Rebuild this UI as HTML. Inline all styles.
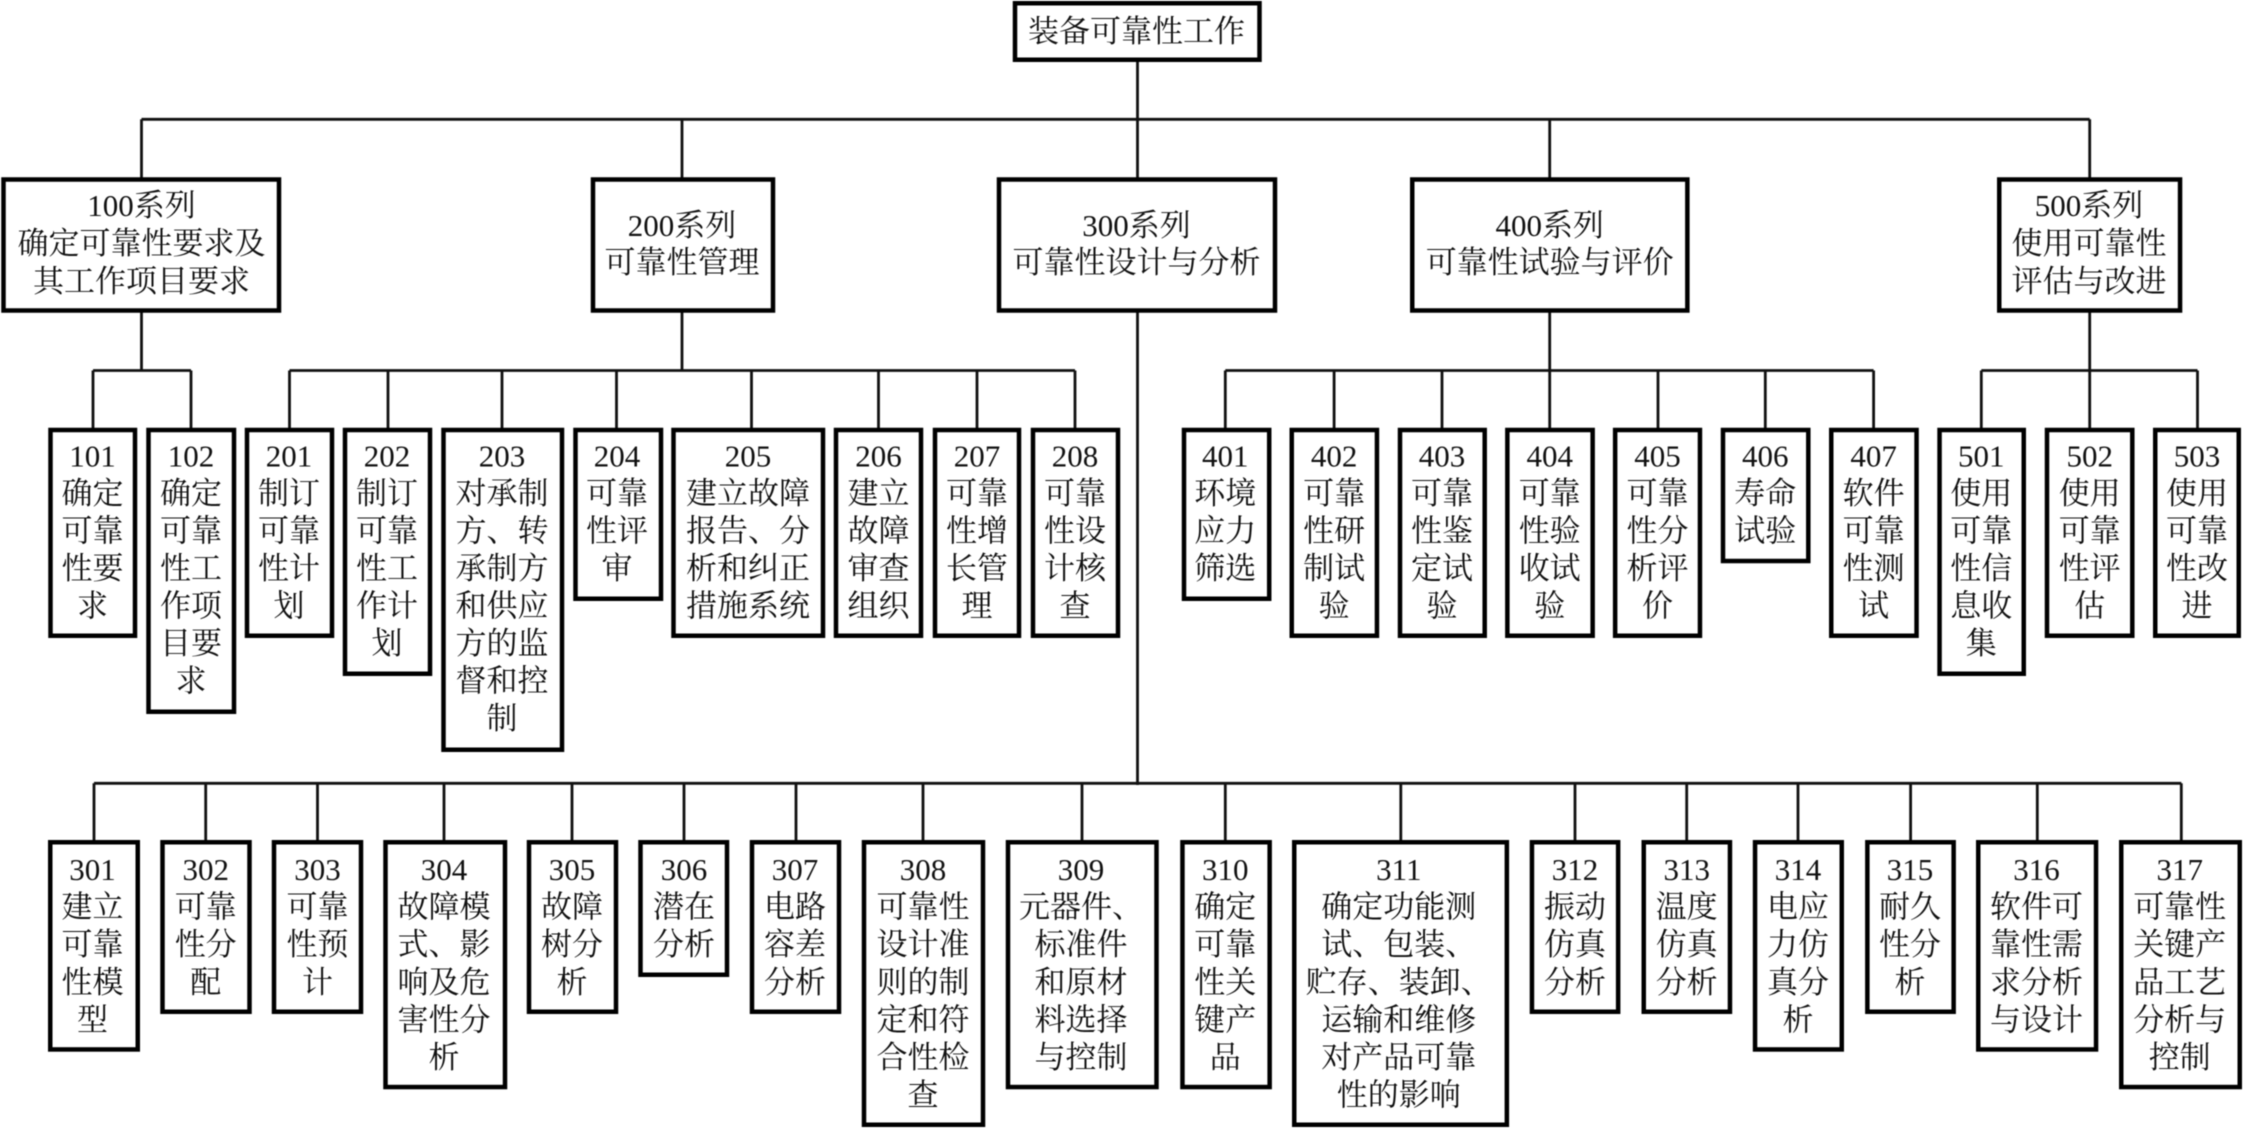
<!DOCTYPE html>
<html lang="zh"><head><meta charset="utf-8"><title>装备可靠性工作</title>
<style>
html,body{margin:0;padding:0;background:#fff;width:2243px;height:1129px;overflow:hidden}
svg{display:block;filter:blur(.5px)}
rect{fill:#fff;stroke:#000;stroke-width:4.5}
path{fill:none;stroke:#111;stroke-width:2.8}
text{font-family:"Liberation Serif","Noto Serif CJK SC",serif;font-size:31px;fill:#111;text-anchor:middle}
</style></head><body>
<svg width="2243" height="1129" viewBox="0 0 2243 1129" xmlns="http://www.w3.org/2000/svg">
<path d="M1137.5 61V178M141.5 119.3H2089.7M141.5 119.3V178M682 119.3V178M1549.7 119.3V178M2089.7 119.3V178"/>
<path d="M141.5 312V370.5M93 370.5H191M93 370.5V428M191 370.5V428"/>
<path d="M682 312V370.5M289.5 370.5H1075M289.5 370.5V428M388 370.5V428M502 370.5V428M616.5 370.5V428M751.5 370.5V428M878.5 370.5V428M977 370.5V428M1075 370.5V428"/>
<path d="M1549.7 312V370.5M1225.3 370.5H1873.6M1225.3 370.5V428M1334.1 370.5V428M1442 370.5V428M1549.7 370.5V428M1658 370.5V428M1765.3 370.5V428M1873.6 370.5V428"/>
<path d="M2089.7 312V370.5M1981.3 370.5H2197.5M1981.3 370.5V428M2089.7 370.5V428M2197.5 370.5V428"/>
<path d="M1137.5 312V785M94 783.3H2181.3"/>
<path d="M94 783.3V840M205.7 783.3V840M317.5 783.3V840M444 783.3V840M572 783.3V840M684 783.3V840M796 783.3V840M923 783.3V840M1082 783.3V840M1225.3 783.3V840M1400.8 783.3V840M1575 783.3V840M1686.7 783.3V840M1798 783.3V840M1910.6 783.3V840M2037.3 783.3V840M2181.3 783.3V840"/>

<rect x="1015" y="3.25" width="244.5" height="56.5"/>
<text x="1136.5" y="42">装备可靠性工作</text>

<rect x="3.5" y="179.5" width="275.5" height="131"/>
<text y="216"><tspan x="141.5">100系列</tspan><tspan x="141.5" dy="38">确定可靠性要求及</tspan><tspan x="141.5" dy="38">其工作项目要求</tspan></text>
<rect x="593" y="179.5" width="180" height="131"/>
<text y="236"><tspan x="682">200系列</tspan><tspan x="682" dy="37">可靠性管理</tspan></text>
<rect x="999" y="179.5" width="276" height="131"/>
<text y="236"><tspan x="1136.5">300系列</tspan><tspan x="1136.5" dy="37">可靠性设计与分析</tspan></text>
<rect x="1412.25" y="179.5" width="275.1" height="131"/>
<text y="236"><tspan x="1549.7">400系列</tspan><tspan x="1549.7" dy="37">可靠性试验与评价</tspan></text>
<rect x="1999.25" y="179.5" width="180.8" height="131"/>
<text y="216"><tspan x="2089">500系列</tspan><tspan x="2089" dy="38">使用可靠性</tspan><tspan x="2089" dy="38">评估与改进</tspan></text>

<rect x="50.5" y="430" width="84.5" height="205.75"/>
<text y="466.5"><tspan x="92.5">101</tspan><tspan x="92.5" dy="37.5">确定</tspan><tspan x="92.5" dy="37.5">可靠</tspan><tspan x="92.5" dy="37.5">性要</tspan><tspan x="92.5" dy="37.5">求</tspan></text>
<rect x="148.5" y="430" width="85.5" height="281.75"/>
<text y="466.5"><tspan x="191">102</tspan><tspan x="191" dy="37.5">确定</tspan><tspan x="191" dy="37.5">可靠</tspan><tspan x="191" dy="37.5">性工</tspan><tspan x="191" dy="37.5">作项</tspan><tspan x="191" dy="37.5">目要</tspan><tspan x="191" dy="37.5">求</tspan></text>
<rect x="247" y="430" width="85" height="205.75"/>
<text y="466.5"><tspan x="289">201</tspan><tspan x="289" dy="37.5">制订</tspan><tspan x="289" dy="37.5">可靠</tspan><tspan x="289" dy="37.5">性计</tspan><tspan x="289" dy="37.5">划</tspan></text>
<rect x="345" y="430" width="85" height="243.75"/>
<text y="466.5"><tspan x="387">202</tspan><tspan x="387" dy="37.5">制订</tspan><tspan x="387" dy="37.5">可靠</tspan><tspan x="387" dy="37.5">性工</tspan><tspan x="387" dy="37.5">作计</tspan><tspan x="387" dy="37.5">划</tspan></text>
<rect x="443.5" y="430" width="118.5" height="319.75"/>
<text y="466.5"><tspan x="502">203</tspan><tspan x="502" dy="37.5">对承制</tspan><tspan x="502" dy="37.5">方、转</tspan><tspan x="502" dy="37.5">承制方</tspan><tspan x="502" dy="37.5">和供应</tspan><tspan x="502" dy="37.5">方的监</tspan><tspan x="502" dy="37.5">督和控</tspan><tspan x="502" dy="37.5">制</tspan></text>
<rect x="575.5" y="430" width="85.5" height="168.75"/>
<text y="466.5"><tspan x="617">204</tspan><tspan x="617" dy="37.5">可靠</tspan><tspan x="617" dy="37.5">性评</tspan><tspan x="617" dy="37.5">审</tspan></text>
<rect x="673.5" y="430" width="149.5" height="205.75"/>
<text y="466.5"><tspan x="748">205</tspan><tspan x="748" dy="37.5">建立故障</tspan><tspan x="748" dy="37.5">报告、分</tspan><tspan x="748" dy="37.5">析和纠正</tspan><tspan x="748" dy="37.5">措施系统</tspan></text>
<rect x="836" y="430" width="85" height="205.75"/>
<text y="466.5"><tspan x="878.5">206</tspan><tspan x="878.5" dy="37.5">建立</tspan><tspan x="878.5" dy="37.5">故障</tspan><tspan x="878.5" dy="37.5">审查</tspan><tspan x="878.5" dy="37.5">组织</tspan></text>
<rect x="935" y="430" width="84" height="205.75"/>
<text y="466.5"><tspan x="977">207</tspan><tspan x="977" dy="37.5">可靠</tspan><tspan x="977" dy="37.5">性增</tspan><tspan x="977" dy="37.5">长管</tspan><tspan x="977" dy="37.5">理</tspan></text>
<rect x="1033" y="430" width="85" height="205.75"/>
<text y="466.5"><tspan x="1075">208</tspan><tspan x="1075" dy="37.5">可靠</tspan><tspan x="1075" dy="37.5">性设</tspan><tspan x="1075" dy="37.5">计核</tspan><tspan x="1075" dy="37.5">查</tspan></text>

<rect x="1184" y="430" width="85.2" height="168.75"/>
<text y="466.5"><tspan x="1225.3">401</tspan><tspan x="1225.3" dy="37.5">环境</tspan><tspan x="1225.3" dy="37.5">应力</tspan><tspan x="1225.3" dy="37.5">筛选</tspan></text>
<rect x="1291.75" y="430" width="85.2" height="205.75"/>
<text y="466.5"><tspan x="1334.1">402</tspan><tspan x="1334.1" dy="37.5">可靠</tspan><tspan x="1334.1" dy="37.5">性研</tspan><tspan x="1334.1" dy="37.5">制试</tspan><tspan x="1334.1" dy="37.5">验</tspan></text>
<rect x="1400" y="430" width="84.7" height="205.75"/>
<text y="466.5"><tspan x="1442">403</tspan><tspan x="1442" dy="37.5">可靠</tspan><tspan x="1442" dy="37.5">性鉴</tspan><tspan x="1442" dy="37.5">定试</tspan><tspan x="1442" dy="37.5">验</tspan></text>
<rect x="1507.35" y="430" width="85.3" height="205.75"/>
<text y="466.5"><tspan x="1549.7">404</tspan><tspan x="1549.7" dy="37.5">可靠</tspan><tspan x="1549.7" dy="37.5">性验</tspan><tspan x="1549.7" dy="37.5">收试</tspan><tspan x="1549.7" dy="37.5">验</tspan></text>
<rect x="1615.15" y="430" width="84.8" height="205.75"/>
<text y="466.5"><tspan x="1657.5">405</tspan><tspan x="1657.5" dy="37.5">可靠</tspan><tspan x="1657.5" dy="37.5">性分</tspan><tspan x="1657.5" dy="37.5">析评</tspan><tspan x="1657.5" dy="37.5">价</tspan></text>
<rect x="1723" y="430" width="85.3" height="131"/>
<text y="466.5"><tspan x="1765.3">406</tspan><tspan x="1765.3" dy="37.5">寿命</tspan><tspan x="1765.3" dy="37.5">试验</tspan></text>
<rect x="1831.25" y="430" width="85.3" height="205.75"/>
<text y="466.5"><tspan x="1873.6">407</tspan><tspan x="1873.6" dy="37.5">软件</tspan><tspan x="1873.6" dy="37.5">可靠</tspan><tspan x="1873.6" dy="37.5">性测</tspan><tspan x="1873.6" dy="37.5">试</tspan></text>
<rect x="1939.55" y="430" width="84.2" height="243.75"/>
<text y="466.5"><tspan x="1981.3">501</tspan><tspan x="1981.3" dy="37.5">使用</tspan><tspan x="1981.3" dy="37.5">可靠</tspan><tspan x="1981.3" dy="37.5">性信</tspan><tspan x="1981.3" dy="37.5">息收</tspan><tspan x="1981.3" dy="37.5">集</tspan></text>
<rect x="2047" y="430" width="85.3" height="205.75"/>
<text y="466.5"><tspan x="2089.7">502</tspan><tspan x="2089.7" dy="37.5">使用</tspan><tspan x="2089.7" dy="37.5">可靠</tspan><tspan x="2089.7" dy="37.5">性评</tspan><tspan x="2089.7" dy="37.5">估</tspan></text>
<rect x="2155.25" y="430" width="83.5" height="205.75"/>
<text y="466.5"><tspan x="2197">503</tspan><tspan x="2197" dy="37.5">使用</tspan><tspan x="2197" dy="37.5">可靠</tspan><tspan x="2197" dy="37.5">性改</tspan><tspan x="2197" dy="37.5">进</tspan></text>

<rect x="50.25" y="842.25" width="87.5" height="207.2"/>
<text y="880"><tspan x="92.5">301</tspan><tspan x="92.5" dy="37.6">建立</tspan><tspan x="92.5" dy="37.6">可靠</tspan><tspan x="92.5" dy="37.6">性模</tspan><tspan x="92.5" dy="37.6">型</tspan></text>
<rect x="162.5" y="842.25" width="87" height="169.5"/>
<text y="880"><tspan x="205.7">302</tspan><tspan x="205.7" dy="37.6">可靠</tspan><tspan x="205.7" dy="37.6">性分</tspan><tspan x="205.7" dy="37.6">配</tspan></text>
<rect x="274" y="842.25" width="87" height="169.5"/>
<text y="880"><tspan x="317.5">303</tspan><tspan x="317.5" dy="37.6">可靠</tspan><tspan x="317.5" dy="37.6">性预</tspan><tspan x="317.5" dy="37.6">计</tspan></text>
<rect x="385.5" y="842.25" width="119.5" height="244.8"/>
<text y="880"><tspan x="444">304</tspan><tspan x="444" dy="37.6">故障模</tspan><tspan x="444" dy="37.6">式、影</tspan><tspan x="444" dy="37.6">响及危</tspan><tspan x="444" dy="37.6">害性分</tspan><tspan x="444" dy="37.6">析</tspan></text>
<rect x="529" y="842.25" width="87" height="169.5"/>
<text y="880"><tspan x="572">305</tspan><tspan x="572" dy="37.6">故障</tspan><tspan x="572" dy="37.6">树分</tspan><tspan x="572" dy="37.6">析</tspan></text>
<rect x="640.5" y="842.25" width="86.5" height="132.5"/>
<text y="880"><tspan x="684">306</tspan><tspan x="684" dy="37.6">潜在</tspan><tspan x="684" dy="37.6">分析</tspan></text>
<rect x="752" y="842.25" width="87" height="169.5"/>
<text y="880"><tspan x="795">307</tspan><tspan x="795" dy="37.6">电路</tspan><tspan x="795" dy="37.6">容差</tspan><tspan x="795" dy="37.6">分析</tspan></text>
<rect x="864" y="842.25" width="119" height="282.5"/>
<text y="880"><tspan x="923">308</tspan><tspan x="923" dy="37.6">可靠性</tspan><tspan x="923" dy="37.6">设计准</tspan><tspan x="923" dy="37.6">则的制</tspan><tspan x="923" dy="37.6">定和符</tspan><tspan x="923" dy="37.6">合性检</tspan><tspan x="923" dy="37.6">查</tspan></text>
<rect x="1008" y="842.25" width="148.5" height="244.8"/>
<text y="880"><tspan x="1081">309</tspan><tspan x="1081" dy="37.6">元器件、</tspan><tspan x="1081" dy="37.6">标准件</tspan><tspan x="1081" dy="37.6">和原材</tspan><tspan x="1081" dy="37.6">料选择</tspan><tspan x="1081" dy="37.6">与控制</tspan></text>
<rect x="1182.45" y="842.25" width="87.2" height="244.8"/>
<text y="880"><tspan x="1225.3">310</tspan><tspan x="1225.3" dy="37.6">确定</tspan><tspan x="1225.3" dy="37.6">可靠</tspan><tspan x="1225.3" dy="37.6">性关</tspan><tspan x="1225.3" dy="37.6">键产</tspan><tspan x="1225.3" dy="37.6">品</tspan></text>
<rect x="1294.25" y="842.25" width="212.6" height="282.5"/>
<text y="880"><tspan x="1398.8">311</tspan><tspan x="1398.8" dy="37.6">确定功能测</tspan><tspan x="1398.8" dy="37.6">试、包装、</tspan><tspan x="1398.8" dy="37.6">贮存、装卸、</tspan><tspan x="1398.8" dy="37.6">运输和维修</tspan><tspan x="1398.8" dy="37.6">对产品可靠</tspan><tspan x="1398.8" dy="37.6">性的影响</tspan></text>
<rect x="1531.95" y="842.25" width="86.2" height="169.5"/>
<text y="880"><tspan x="1575">312</tspan><tspan x="1575" dy="37.6">振动</tspan><tspan x="1575" dy="37.6">仿真</tspan><tspan x="1575" dy="37.6">分析</tspan></text>
<rect x="1643.75" y="842.25" width="86.2" height="169.5"/>
<text y="880"><tspan x="1686.7">313</tspan><tspan x="1686.7" dy="37.6">温度</tspan><tspan x="1686.7" dy="37.6">仿真</tspan><tspan x="1686.7" dy="37.6">分析</tspan></text>
<rect x="1755.05" y="842.25" width="86.7" height="207.2"/>
<text y="880"><tspan x="1798">314</tspan><tspan x="1798" dy="37.6">电应</tspan><tspan x="1798" dy="37.6">力仿</tspan><tspan x="1798" dy="37.6">真分</tspan><tspan x="1798" dy="37.6">析</tspan></text>
<rect x="1867.35" y="842.25" width="86.3" height="169.5"/>
<text y="880"><tspan x="1910">315</tspan><tspan x="1910" dy="37.6">耐久</tspan><tspan x="1910" dy="37.6">性分</tspan><tspan x="1910" dy="37.6">析</tspan></text>
<rect x="1978.25" y="842.25" width="117.8" height="207.2"/>
<text y="880"><tspan x="2036.5">316</tspan><tspan x="2036.5" dy="37.6">软件可</tspan><tspan x="2036.5" dy="37.6">靠性需</tspan><tspan x="2036.5" dy="37.6">求分析</tspan><tspan x="2036.5" dy="37.6">与设计</tspan></text>
<rect x="2121.25" y="842.25" width="118.5" height="244.8"/>
<text y="880"><tspan x="2179.7">317</tspan><tspan x="2179.7" dy="37.6">可靠性</tspan><tspan x="2179.7" dy="37.6">关键产</tspan><tspan x="2179.7" dy="37.6">品工艺</tspan><tspan x="2179.7" dy="37.6">分析与</tspan><tspan x="2179.7" dy="37.6">控制</tspan></text>
</svg>
</body></html>
